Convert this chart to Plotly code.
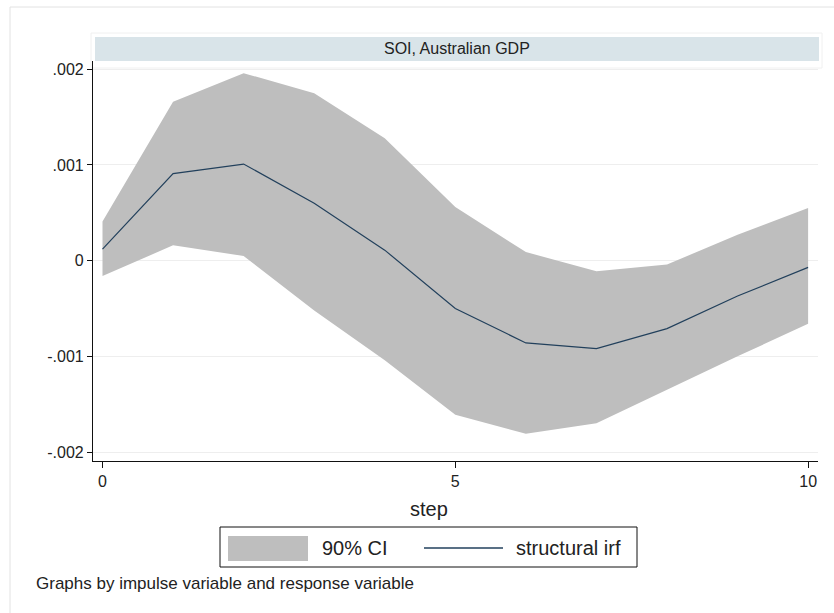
import plotly.graph_objects as go

# Impulse: SOI, response: Australian GDP
steps = [0, 1, 2, 3, 4, 5, 6, 7, 8, 9, 10]
irf = [0.00012, 0.00091, 0.00101, 0.00060, 0.00011, -0.00050,
       -0.00086, -0.00092, -0.00071, -0.00037, -0.00007]
ci_upper = [0.00041, 0.00166, 0.00196, 0.00175, 0.00128, 0.00056,
            0.00009, -0.00011, -0.00004, 0.00027, 0.00055]
ci_lower = [-0.00016, 0.00016, 0.00005, -0.00052, -0.00104, -0.00161,
            -0.00181, -0.00170, -0.00135, -0.00100, -0.00066]

y_ticks = [0.002, 0.001, 0.0, -0.001, -0.002]
y_tick_text = [".002", ".001", "0", "-.001", "-.002"]
x_ticks = [0, 5, 10]

panel_title = "SOI, Australian GDP"
x_title = "step"
note = "Graphs by impulse variable and response variable"
legend_labels = ["90% CI", "structural irf"]

FONT = "Liberation Sans, Arial, sans-serif"
W, H = 834, 613
L, R, T, B = 93, 16, 61, 152
PW, PH = W - L - R, H - T - B
band_col = "#bebebe"
line_col = "#22405c"


def px(xp):
    return (xp - L) / PW


def py(yp):
    return (H - B - yp) / PH


fig = go.Figure()
fig.add_trace(go.Scatter(
    x=steps + steps[::-1], y=ci_upper + ci_lower[::-1],
    fill="toself", fillcolor=band_col, line=dict(width=0),
    mode="lines", hoverinfo="skip", showlegend=False))
fig.add_trace(go.Scatter(
    x=steps, y=irf, mode="lines",
    line=dict(color=line_col, width=1.2), showlegend=False))

shapes = []
# outer graph frame
shapes.append(dict(type="rect", xref="paper", yref="paper",
                   x0=px(10), x1=px(900), y0=py(700), y1=py(7),
                   line=dict(color="#e2e2e2", width=1), layer="below"))
# faint box around the panel header
shapes.append(dict(type="rect", xref="paper", yref="paper",
                   x0=px(91), x1=px(822), y0=py(68), y1=py(33),
                   line=dict(color="#f0f0f0", width=1), layer="below"))
# panel header strip
shapes.append(dict(type="rect", xref="paper", yref="paper",
                   x0=px(95), x1=px(819), y0=py(61), y1=py(37),
                   fillcolor="#d9e4e9", line=dict(width=0)))
# legend frame and keys
shapes.append(dict(type="rect", xref="paper", yref="paper",
                   x0=px(220), x1=px(637), y0=py(567), y1=py(527),
                   fillcolor="white", line=dict(color="#111111", width=1)))
shapes.append(dict(type="rect", xref="paper", yref="paper",
                   x0=px(228), x1=px(308), y0=py(561), y1=py(536),
                   fillcolor=band_col, line=dict(width=0)))
shapes.append(dict(type="line", xref="paper", yref="paper",
                   x0=px(424), x1=px(503), y0=py(548), y1=py(548),
                   line=dict(color=line_col, width=1.6)))

annotations = [
    dict(text=panel_title, xref="paper", yref="paper", x=px(457), y=py(49),
         showarrow=False, xanchor="center", yanchor="middle",
         font=dict(family=FONT, size=16, color="#222222")),
    dict(text=x_title, xref="paper", yref="paper", x=px(429), y=py(509),
         showarrow=False, xanchor="center", yanchor="middle",
         font=dict(family=FONT, size=20, color="#222222")),
    dict(text=legend_labels[0], xref="paper", yref="paper", x=px(320), y=py(548),
         showarrow=False, xanchor="left", yanchor="middle",
         font=dict(family=FONT, size=20, color="#222222")),
    dict(text=legend_labels[1], xref="paper", yref="paper", x=px(514), y=py(548),
         showarrow=False, xanchor="left", yanchor="middle",
         font=dict(family=FONT, size=20, color="#222222")),
    dict(text=note, xref="paper", yref="paper", x=px(34), y=py(583),
         showarrow=False, xanchor="left", yanchor="middle",
         font=dict(family=FONT, size=17, color="#222222")),
]

fig.update_layout(
    width=W, height=H,
    margin=dict(l=L, r=R, t=T, b=B, pad=0),
    paper_bgcolor="white", plot_bgcolor="white",
    shapes=shapes, annotations=annotations, showlegend=False,
    font=dict(family=FONT, size=16, color="#222222"),
)
fig.update_xaxes(
    range=[-0.1347, 10.14], tickvals=x_ticks, ticktext=[str(v) for v in x_ticks],
    showgrid=False, zeroline=False, showline=True, linecolor="#111111", linewidth=1.2,
    ticks="outside", ticklen=6, tickcolor="#111111",
    tickfont=dict(family=FONT, size=16, color="#222222"))
fig.update_yaxes(
    range=[-0.002094, 0.002087], tickvals=y_ticks, ticktext=y_tick_text,
    showgrid=True, gridcolor="#eeeeee", gridwidth=1, zeroline=False,
    showline=True, linecolor="#111111", linewidth=1.2,
    ticks="outside", ticklen=5, tickcolor="#111111",
    tickfont=dict(family=FONT, size=16, color="#222222"))

fig.write_html("out.html")
